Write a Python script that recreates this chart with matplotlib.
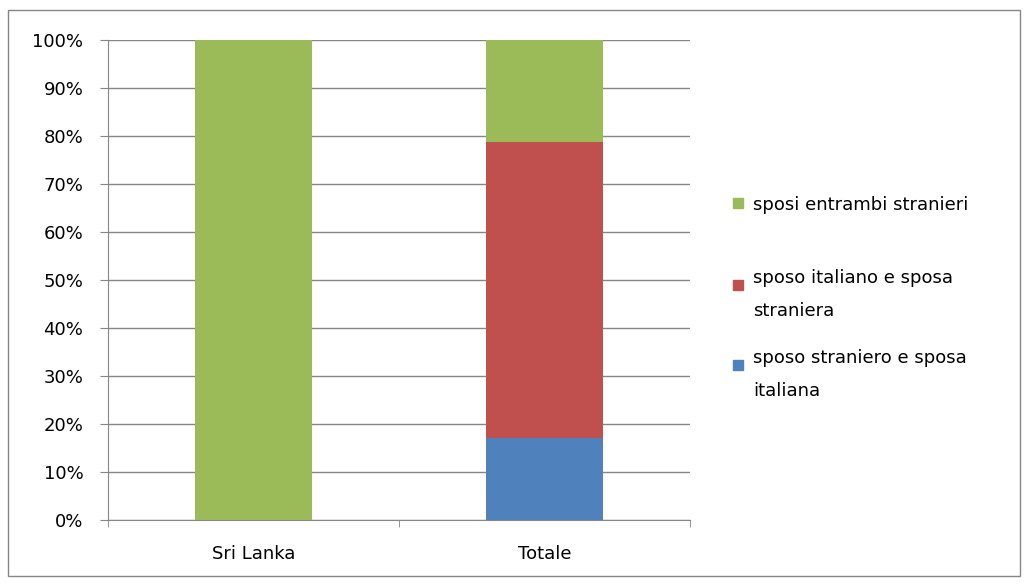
import matplotlib.pyplot as plt
import numpy as np
from matplotlib.patches import Rectangle

categories = ['Sri Lanka', 'Totale']
blue_vals = [0.0, 17.1]     # sposo straniero e sposa italiana
red_vals = [0.0, 61.6]      # sposo italiano e sposa straniera
green_vals = [100.0, 21.3]  # sposi entrambi stranieri
labels = ['sposo straniero e sposa\nitaliana',
          'sposo italiano e sposa\nstraniera',
          'sposi entrambi stranieri']
colors = ['#4F81BD', '#C0504D', '#9BBB59']

plt.rcParams['font.family'] = ['DejaVu Sans']
fig = plt.figure(figsize=(10.25, 5.84), dpi=100)
ax = fig.add_axes([108/1025, 64/584, 582/1025, 480/584])

x = np.arange(len(categories))
b1 = ax.bar(x, blue_vals, width=0.4, color=colors[0], zorder=3)
b2 = ax.bar(x, red_vals, width=0.4, bottom=blue_vals, color=colors[1], zorder=3)
bottom2 = np.array(blue_vals) + np.array(red_vals)
b3 = ax.bar(x, green_vals, width=0.4, bottom=bottom2, color=colors[2], zorder=3)

ax.set_xlim(-0.5, 1.5)
ax.set_ylim(0, 100)
ax.set_yticks(np.arange(0, 101, 10))
ax.set_yticklabels([f'{v}%' for v in range(0, 101, 10)])
ax.set_xticks(x)
ax.set_xticklabels(categories)
ax.set_xticks([-0.5, 0.5, 1.5], minor=True)
ax.tick_params(axis='x', which='major', length=0, pad=18, labelsize=13)
ax.tick_params(axis='x', which='minor', length=5, color='#868686')
ax.tick_params(axis='y', length=5.8, color='#868686', labelsize=13, pad=12)
ax.yaxis.grid(True, color='#868686', linewidth=1, zorder=0)
for s in ['top', 'right']:
    ax.spines[s].set_visible(False)
for s in ['left', 'bottom']:
    ax.spines[s].set_color('#868686')

# legend drawn by hand (Excel spacing is uneven): green, red, blue
leg_y = [203, 285, 365]
for lab, col, yy in zip(labels[::-1], colors[::-1], leg_y):
    fig.patches.append(Rectangle((733/1025, 1 - (yy + 5)/584), 10/1025, 10/584,
                                 transform=fig.transFigure, color=col))
    fig.text(753/1025, 1 - yy/584, lab, fontsize=13, va='center_baseline',
             ha='left', linespacing=2.1)

# outer border
fig.patches.append(Rectangle((8/1025, 8/584), 1012/1025, 566/584,
                             transform=fig.transFigure, fill=False,
                             edgecolor='#868686', linewidth=1))

fig.savefig('out.png', dpi=100)
